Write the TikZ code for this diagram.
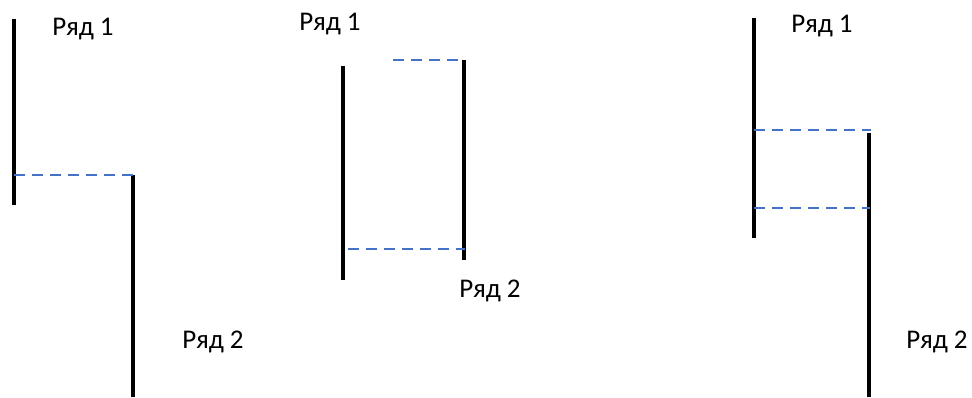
\documentclass[tikz,border=0pt]{standalone}
\usepackage{fontspec}
\setmainfont{Carlito}
\definecolor{officeblue}{HTML}{4472C4}
\tikzset{
  bar/.style={line width=4.5pt, black},
  link/.style={officeblue, line width=1.4pt, dash pattern=on 11pt off 7pt},
  label/.style={font=\fontsize{27}{31}\selectfont, inner sep=0pt}
}
\begin{document}
\begin{tikzpicture}[x=1pt, y=-1pt]
    \useasboundingbox (0,0) rectangle (972,398);

    % Panel 1: rows touch at one level
    \coordinate (a1t) at (14,19);   \coordinate (a1b) at (14,205);
    \coordinate (a2t) at (133,175); \coordinate (a2b) at (133,397);
    \coordinate (a1m) at (14,175);
    \draw[bar] (a1t) -- (a1b);
    \draw[bar] (a2t) -- (a2b);
    \draw[link] (a1m) -- (a2t);
    \node[label] (a1) at (83,29) {Ряд 1};
    \node[label] (a2) at (213,342) {Ряд 2};

    % Panel 2: row 2 lies inside row 1
    \coordinate (b1t) at (343,66);  \coordinate (b1b) at (343,280);
    \coordinate (b2t) at (464,60);  \coordinate (b2b) at (464,260);
    \coordinate (b0) at (393,60);
    \coordinate (b1m) at (348,249); \coordinate (b2m) at (465,249);
    \draw[bar] (b1t) -- (b1b);
    \draw[bar] (b2t) -- (b2b);
    \draw[link] (b0) -- (b2t);
    \draw[link] (b1m) -- (b2m);
    \node[label] (b1) at (330,24) {Ряд 1};
    \node[label] (b2) at (490,291) {Ряд 2};

    % Panel 3: rows overlap
    \coordinate (c1t) at (754,18);  \coordinate (c1b) at (754,238);
    \coordinate (c2t) at (869,133); \coordinate (c2b) at (869,397);
    \coordinate (c1u) at (754,130); \coordinate (c2u) at (871,130);
    \coordinate (c1m) at (754,208); \coordinate (c2m) at (870,208);
    \draw[bar] (c1t) -- (c1b);
    \draw[bar] (c2t) -- (c2b);
    \draw[link] (c1u) -- (c2u);
    \draw[link] (c1m) -- (c2m);
    \node[label] (c1) at (822,26) {Ряд 1};
    \node[label] (c2) at (937,342) {Ряд 2};
\end{tikzpicture}
\end{document}
